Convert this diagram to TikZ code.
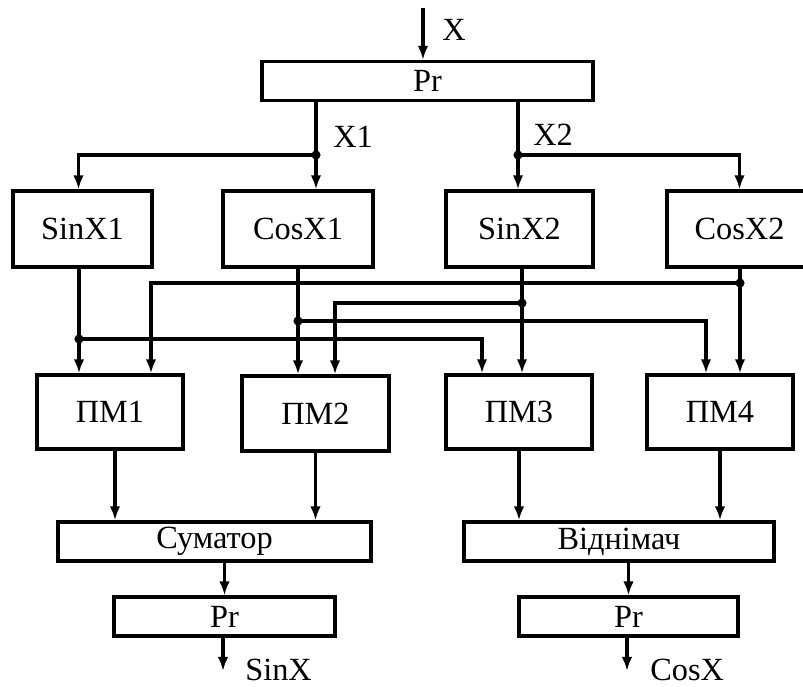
\documentclass[tikz,border=0pt]{standalone}
\usepackage{fontspec}
\setmainfont{Liberation Serif}
\usepackage{tikz}
\usetikzlibrary{arrows.meta, positioning, calc}

\begin{document}
\begin{tikzpicture}[x=0.025cm, y=-0.025cm,
  block/.style={rectangle, draw, line width=2.3pt, inner sep=0pt,
                minimum height=1.9cm, text centered,
                font=\fontsize{23}{27}\selectfont},
  bar/.style={block, minimum height=0.975cm},
  arr/.style={-{Latex[length=10pt,width=7.5pt]}, line width=2.3pt},
  wire/.style={line width=2.3pt},
  jdot/.style={circle, fill, inner sep=0pt, minimum size=6.5pt},
  lbl/.style={anchor=west, inner sep=0pt, font=\fontsize{23}{27}\selectfont}
]
\useasboundingbox (0,0) rectangle (803,686);

\node[bar, minimum width=8.275cm] (prin) at (427.5,81) {Pr};

\node[block, minimum width=3.475cm] (sinx1) at (82.5,229) {SinX1};
\node[block, minimum width=3.75cm]  (cosx1) at (298,229) {CosX1};
\node[block, minimum width=3.675cm] (sinx2) at (519.5,229) {SinX2};
\node[block, minimum width=3.625cm] (cosx2) at (739.5,229) {CosX2};

\node[block, minimum width=3.65cm, minimum height=1.85cm]  (pm1) at (110,412) {ПМ1};
\node[block, minimum width=3.675cm, minimum height=1.875cm] (pm2) at (315.5,413.5) {ПМ2};
\node[block, minimum width=3.65cm, minimum height=1.85cm]  (pm3) at (519,412) {ПМ3};
\node[block, minimum width=3.65cm, minimum height=1.85cm]  (pm4) at (720,412) {ПМ4};

\node[bar, minimum width=7.825cm] (sum) at (214.5,541.5) {Суматор};
\node[bar, minimum width=7.75cm]  (sub) at (619,541.5) {Віднімач};
\node[bar, minimum width=5.525cm] (prs) at (224.5,616.5) {Pr};
\node[bar, minimum width=5.475cm] (prc) at (628.5,616.5) {Pr};

% input and splitter
\coordinate (xin) at (423,8);
\draw[arr] (xin) -- (xin |- prin.north);
\node[lbl] (xlab) at (442,30) {X};

\coordinate (j1) at (316,155);
\coordinate (j2) at (518,155);
\draw[wire] (prin.south -| j1) -- (j1);
\draw[wire] (prin.south -| j2) -- (j2);
\draw[arr] (j1) -- (j1 |- cosx1.north);
\draw[arr] (j1) -| ([xshift=-0.1cm]sinx1.north);
\draw[arr] (j2) -- (j2 |- sinx2.north);
\draw[arr] (j2) -| (cosx2.north);
\node[jdot] at (j1) {};
\node[jdot] at (j2) {};
\node[lbl] (x1lab) at (333,137) {X1};
\node[lbl] (x2lab) at (533,135) {X2};

% cross connections
\coordinate (a1) at (79,339);
\coordinate (a2) at (298,321);
\coordinate (a3) at (522,303);
\coordinate (a4) at (740,283);
\coordinate (b1) at (482,339);
\coordinate (b2) at (706,321);
\coordinate (b3) at (335,303);
\coordinate (b4) at (151,283);

\draw[arr] (sinx1.south -| a1) -- (a1 |- pm1.north);
\draw[arr] (cosx1.south -| a2) -- (a2 |- pm2.north);
\draw[arr] (sinx2.south -| a3) -- (a3 |- pm3.north);
\draw[arr] (cosx2.south -| a4) -- (a4 |- pm4.north);

\draw[arr] (a1) -- (b1) -- (b1 |- pm3.north);
\draw[arr] (a2) -- (b2) -- (b2 |- pm4.north);
\draw[arr] (a3) -- (b3) -- (b3 |- pm2.north);
\draw[arr] (a4) -- (b4) -- (b4 |- pm1.north);

\foreach \j in {a1,a2,a3,a4}
  \node[jdot] at (\j) {};

% outputs
\coordinate (p1) at ($(pm1.south)+(5,0)$);
\draw[arr] (p1) -- (p1 |- sum.north);
\draw[arr] (pm2.south) -- (pm2.south |- sum.north);
\draw[arr] (pm3.south) -- (pm3.south |- sub.north);
\draw[arr] (pm4.south) -- (pm4.south |- sub.north);

\draw[arr] (sum.south -| prs.north) -- (prs.north);
\draw[arr] (sub.south -| prc.north) -- (prc.north);

\coordinate (outs) at (223,671);
\coordinate (outc) at (627,671);
\draw[arr] (prs.south -| outs) -- (outs);
\draw[arr] (prc.south -| outc) -- (outc);
\node[lbl] (slab) at (245,670) {SinX};
\node[lbl] (clab) at (650,670) {CosX};

\end{tikzpicture}
\end{document}
